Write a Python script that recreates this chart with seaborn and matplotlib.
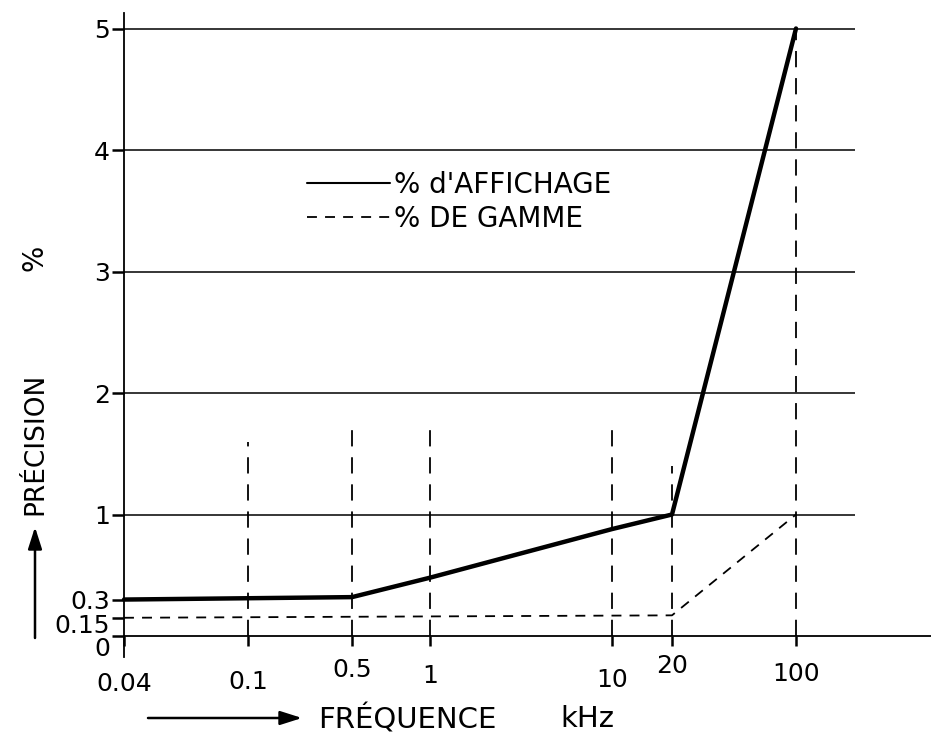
import numpy as np
import pandas as pd
import matplotlib
matplotlib.use("Agg")
import matplotlib.pyplot as plt
from matplotlib.transforms import ScaledTranslation
import seaborn as sns

# --- data -------------------------------------------------------------
freq_ticks = [0.04, 0.1, 0.5, 1, 10, 20, 100]
freq_tick_labels = ["0.04", "0.1", "0.5", "1", "10", "20", "100"]
prec_ticks = [0, 0.15, 0.3, 1, 2, 3, 4, 5]
prec_tick_labels = ["0", "0.15", "0.3", "1", "2", "3", "4", "5"]
grid_levels = [1, 2, 3, 4, 5]

# accuracy as % of reading
freq_reading = [0.04, 0.5, 1, 10, 20, 100]
prec_reading = [0.3, 0.32, 0.48, 0.88, 1.0, 5.0]

# accuracy as % of range
freq_range = [0.04, 20, 100]
prec_range = [0.15, 0.17, 1.0]

# vertical reference marks
guide_freq = [0.1, 0.5, 1, 10, 20, 100]
guide_top = [1.6, 1.7, 1.7, 1.7, 1.4, 5.0]

# --- non-uniform frequency axis (piecewise in log space) ---------------
W, H = 931, 734
tick_px = np.array([124, 248, 352, 430, 612, 672, 796], float)
lf = np.log10(np.array(freq_ticks, float))
sl = (tick_px[1] - tick_px[0]) / (lf[1] - lf[0])
sr = (tick_px[-1] - tick_px[-2]) / (lf[-1] - lf[-2])


def _fwd(x):
    x = np.asarray(x, float)
    lx = np.log10(np.clip(x, 1e-12, None))
    flat = lx.ravel()
    p = np.interp(flat, lf, tick_px)
    p = np.where(flat < lf[0], tick_px[0] + (flat - lf[0]) * sl, p)
    p = np.where(flat > lf[-1], tick_px[-1] + (flat - lf[-1]) * sr, p)
    return p.reshape(lx.shape)


def _inv(p):
    p = np.asarray(p, float)
    flat = p.ravel()
    lx = np.interp(flat, tick_px, lf)
    lx = np.where(flat < tick_px[0], lf[0] + (flat - tick_px[0]) / sl, lx)
    lx = np.where(flat > tick_px[-1], lf[-1] + (flat - tick_px[-1]) / sr, lx)
    return (10 ** lx).reshape(p.shape)


# --- style ------------------------------------------------------------
sns.set_theme(style="white")
plt.rcParams["font.family"] = ["DejaVu Sans"]
plt.rcParams["text.color"] = "black"
plt.rcParams["axes.labelcolor"] = "black"
plt.rcParams["xtick.color"] = "black"
plt.rcParams["ytick.color"] = "black"

FS_TICK = 18
FS_TEXT = 20
fig = plt.figure(figsize=(W / 100, H / 100), dpi=100)
ax = fig.add_axes([0, 0, 1, 1])
ax.set_xscale("function", functions=(_fwd, _inv))

y0_px, unit_px = 636.0, 121.5
ax.set_xlim(float(_inv(0)), float(_inv(W)))
ax.set_ylim(-(H - y0_px) / unit_px, y0_px / unit_px)
ax.patch.set_alpha(0)

# grid lines
ax.hlines(grid_levels, freq_ticks[0], float(_inv(855)), color="black", lw=1.1)

# vertical dashed guides
ax.vlines(guide_freq, 0, guide_top, color="black", lw=1.3,
          linestyles=[(0, (9, 6))])

df_read = pd.DataFrame({"f": freq_reading, "p": prec_reading})
df_range = pd.DataFrame({"f": freq_range, "p": prec_range})
sns.lineplot(data=df_read, x="f", y="p", ax=ax, color="black", lw=3.2,
             sort=False, estimator=None, errorbar=None,
             label="% d'AFFICHAGE")
sns.lineplot(data=df_range, x="f", y="p", ax=ax, color="black", lw=1.3,
             sort=False, estimator=None, errorbar=None,
             label="% DE GAMME", dashes=False)
ax.get_lines()[-1].set_linestyle((0, (5.5, 4.5)))

# axes lines
for s in ["top", "right"]:
    ax.spines[s].set_visible(False)
ax.spines["left"].set_position(("data", freq_ticks[0]))
ax.spines["left"].set_bounds(-0.17, 5.13)
ax.spines["bottom"].set_position(("data", 0))
ax.spines["bottom"].set_bounds(freq_ticks[0], float(_inv(W)))
for s in ["left", "bottom"]:
    ax.spines[s].set_color("black")
    ax.spines[s].set_linewidth(1.3)

ax.set_xticks(freq_ticks, freq_tick_labels)
ax.set_yticks(prec_ticks, prec_tick_labels)
ax.minorticks_off()
ax.tick_params(axis="x", direction="out", length=7, width=1.8,
               pad=13, labelsize=FS_TICK, bottom=True)
ax.tick_params(axis="y", direction="out", length=8.5, width=1.8,
               pad=1.5, labelsize=FS_TICK, left=True)

# hand-lettered label offsets (pixels, positive = down)
x_nudge = [8, 6, -6, 0, 4, -10, -2]
for lab, dy in zip(ax.get_xticklabels(), x_nudge):
    lab.set_transform(lab.get_transform()
                      + ScaledTranslation(0, -dy / 100, fig.dpi_scale_trans))
y_nudge = [11, 6, 0, 0, 0, 0, 0, 0]
for lab, dy in zip(ax.get_yticklabels(), y_nudge):
    lab.set_transform(lab.get_transform()
                      + ScaledTranslation(0, -dy / 100, fig.dpi_scale_trans))

ax.set_xlabel("")
ax.set_ylabel("")

# legend
leg = ax.legend(loc="upper left", bbox_to_anchor=(296 / W, 1 - 160 / H),
                frameon=False, fontsize=FS_TEXT, handlelength=3.0,
                handletextpad=0.12, labelspacing=0.2, borderaxespad=0)
leg.get_lines()[0].set_linewidth(1.5)

# axis titles with arrows
def px(x, y):
    return (x / W, 1 - y / H)

fig.text(*px(35, 444), "PRÉCISION", rotation=90, ha="center", va="center",
         fontsize=FS_TEXT - 1)
fig.text(*px(35, 258), "%", rotation=90, ha="center", va="center",
         fontsize=FS_TEXT)
fig.text(*px(318, 719), "FRÉQUENCE", ha="left", va="center",
         fontsize=FS_TEXT + 1)
fig.text(*px(560, 719), "kHz", ha="left", va="center", fontsize=FS_TEXT + 1)

arrow = dict(arrowstyle="-|>,head_length=1.1,head_width=0.35",
             color="black", lw=1.8, shrinkA=0, shrinkB=0)
ax.annotate("", xy=(35, H - 527), xytext=(35, H - 638),
            xycoords="figure pixels", textcoords="figure pixels",
            arrowprops=arrow, annotation_clip=False)
ax.annotate("", xy=(302, H - 718), xytext=(148, H - 718),
            xycoords="figure pixels", textcoords="figure pixels",
            arrowprops=arrow, annotation_clip=False)

fig.savefig("out.png", dpi=100, facecolor="white")
